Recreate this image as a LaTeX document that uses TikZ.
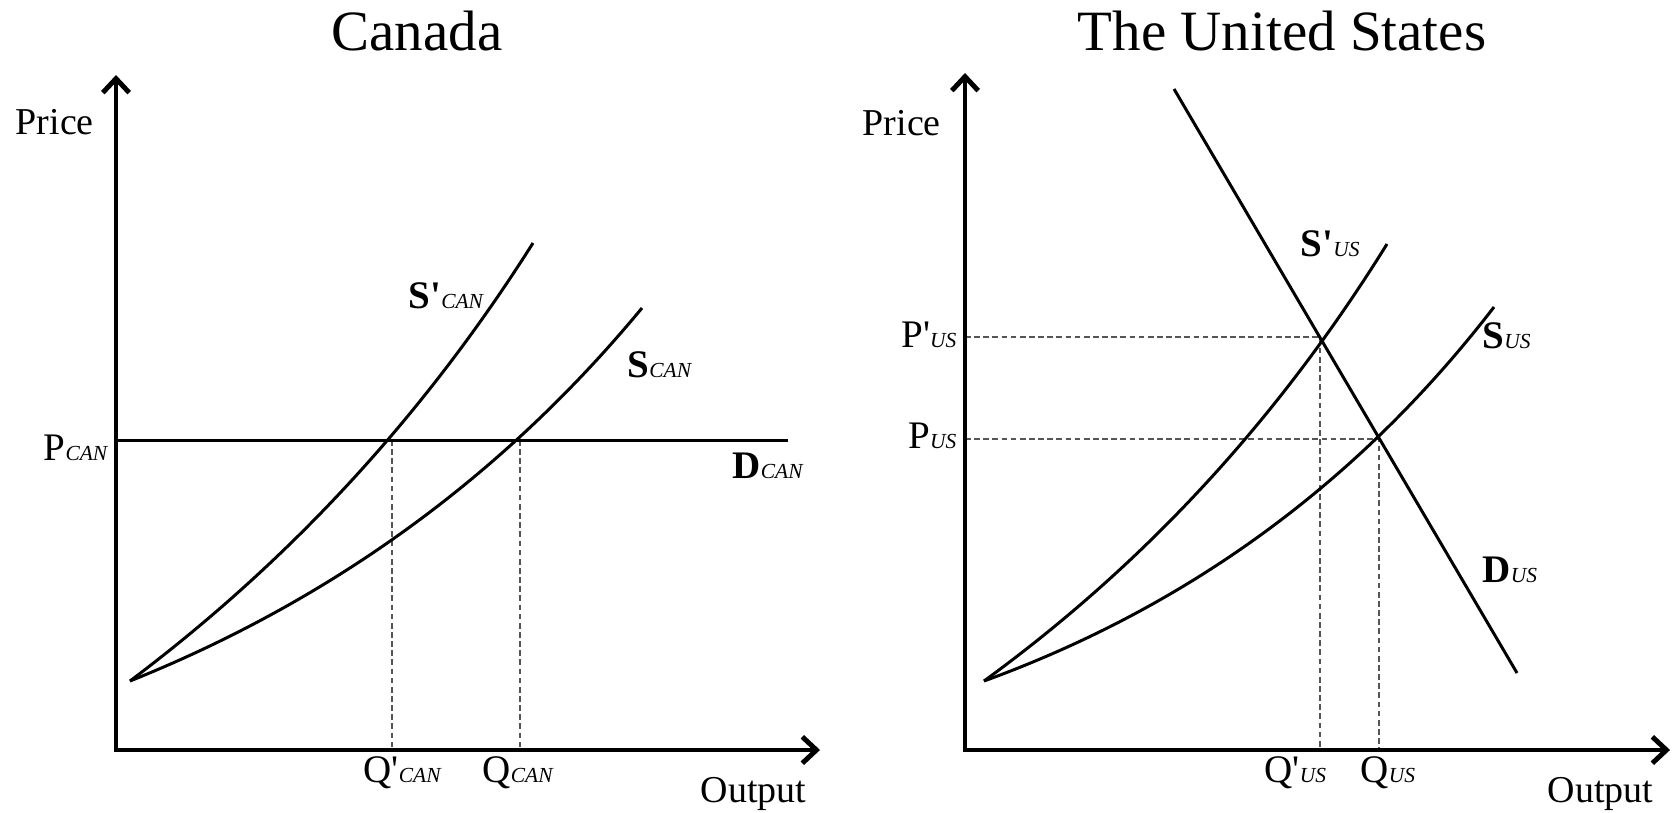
\documentclass[tikz,border=0pt]{standalone}
\usepackage{fontspec}
\setmainfont{Liberation Serif}[Ligatures=TeXOff]
\usetikzlibrary{positioning, arrows.meta, calc}
\definecolor{guidegray}{RGB}{85, 85, 85}
\newcommand{\sublbl}[1]{{\fontsize{6.1}{7}\selectfont\itshape #1}}

\begin{document}
\begin{tikzpicture}[
                x=0.01cm, y=-0.01cm,
                axes/.style={line width=1.4pt, {Straight Barb[length=4pt, width=7.5pt]}-{Straight Barb[length=4pt, width=7.5pt]}},
                curve/.style={line width=0.85pt},
                guide/.style={draw=guidegray, line width=0.45pt, dash pattern=on 1.6pt off 1pt},
                title/.style={font=\fontsize{16.2}{18}\selectfont, anchor=base, inner sep=0pt},
                axlabel/.style={font=\fontsize{10.8}{12}\selectfont, anchor=base west, inner sep=0pt},
                tag/.style={font=\fontsize{11.1}{12}\selectfont, anchor=base west, inner sep=0pt}
            ]
                \useasboundingbox (0,0) rectangle (1677,812);

                % Panel izquierdo: Canada
                \node[title] (tcan) at (417,50) {Canada};
                \coordinate (ycan) at (116,75);
                \coordinate (ocan) at (116,750);
                \coordinate (xcan) at (820,750);
                \coordinate (scan) at (130,681);
                \coordinate (spcanend) at (533,243);
                \coordinate (scanend) at (642,308);
                \coordinate (pcan) at (116,440);
                \coordinate (dcanend) at (788,440);
                \coordinate (eqpcan) at (392,440);
                \coordinate (eqcan) at (520,440);

                \draw[guide] (eqpcan) -- (eqpcan |- ocan);
                \draw[guide] (eqcan) -- (eqcan |- ocan);
                \draw[curve] (scan) .. controls (291,560) and (425,414) .. (spcanend);
                \draw[curve] (scan) .. controls (332,600) and (503,476) .. (scanend);
                \draw[curve] (pcan) -- (dcanend);
                \draw[axes] (ycan) -- (ocan) -- (xcan);

                \node[axlabel] (pricecan) at (15,134) {Price};
                \node[axlabel] (outcan) at (700,802) {Output};
                \node[tag, anchor=base east] (lpcan) at (108,460) {P\sublbl{CAN}};
                \node[tag] (lqpcan) at (363,782) {Q'\sublbl{CAN}};
                \node[tag] (lqcan) at (482,782) {Q\sublbl{CAN}};
                \node[tag] (lspcan) at (408,308) {\textbf{S'}\sublbl{CAN}};
                \node[tag] (lscan) at (627,377) {\textbf{S}\sublbl{CAN}};
                \node[tag] (ldcan) at (732,478) {\textbf{D}\sublbl{CAN}};

                % Panel derecho: Estados Unidos
                \node[title] (tus) at (1282,50) {The United States};
                \coordinate (yus) at (965,73);
                \coordinate (ous) at (965,750);
                \coordinate (xus) at (1670,750);
                \coordinate (sus) at (984,681);
                \coordinate (spusend) at (1387,244);
                \coordinate (susend) at (1494,307);
                \coordinate (dustop) at (1174,89);
                \coordinate (dusend) at (1517,673);
                \coordinate (equsp) at (1320,337);
                \coordinate (equs) at (1379,439);

                \draw[guide] (equsp -| ous) -- (equsp) -- (equsp |- ous);
                \draw[guide] (equs -| ous) -- (equs) -- (equs |- ous);
                \draw[curve] (sus) .. controls (1146,563) and (1279,418) .. (spusend);
                \draw[curve] (sus) .. controls (1190,606) and (1360,481) .. (susend);
                \draw[curve] (dustop) -- (dusend);
                \draw[axes] (yus) -- (ous) -- (xus);

                \node[axlabel] (priceus) at (862,135) {Price};
                \node[axlabel] (outus) at (1547,802) {Output};
                \node[tag, anchor=base east] (lppus) at (957,347) {P'\sublbl{US}};
                \node[tag, anchor=base east] (lpus) at (957,448) {P\sublbl{US}};
                \node[tag] (lqpus) at (1264,782) {Q'\sublbl{US}};
                \node[tag] (lqus) at (1360,782) {Q\sublbl{US}};
                \node[tag] (lspus) at (1300,256) {\textbf{S'}\sublbl{US}};
                \node[tag] (lsus) at (1482,348) {\textbf{S}\sublbl{US}};
                \node[tag] (ldus) at (1482,582) {\textbf{D}\sublbl{US}};
            \end{tikzpicture}
\end{document}
